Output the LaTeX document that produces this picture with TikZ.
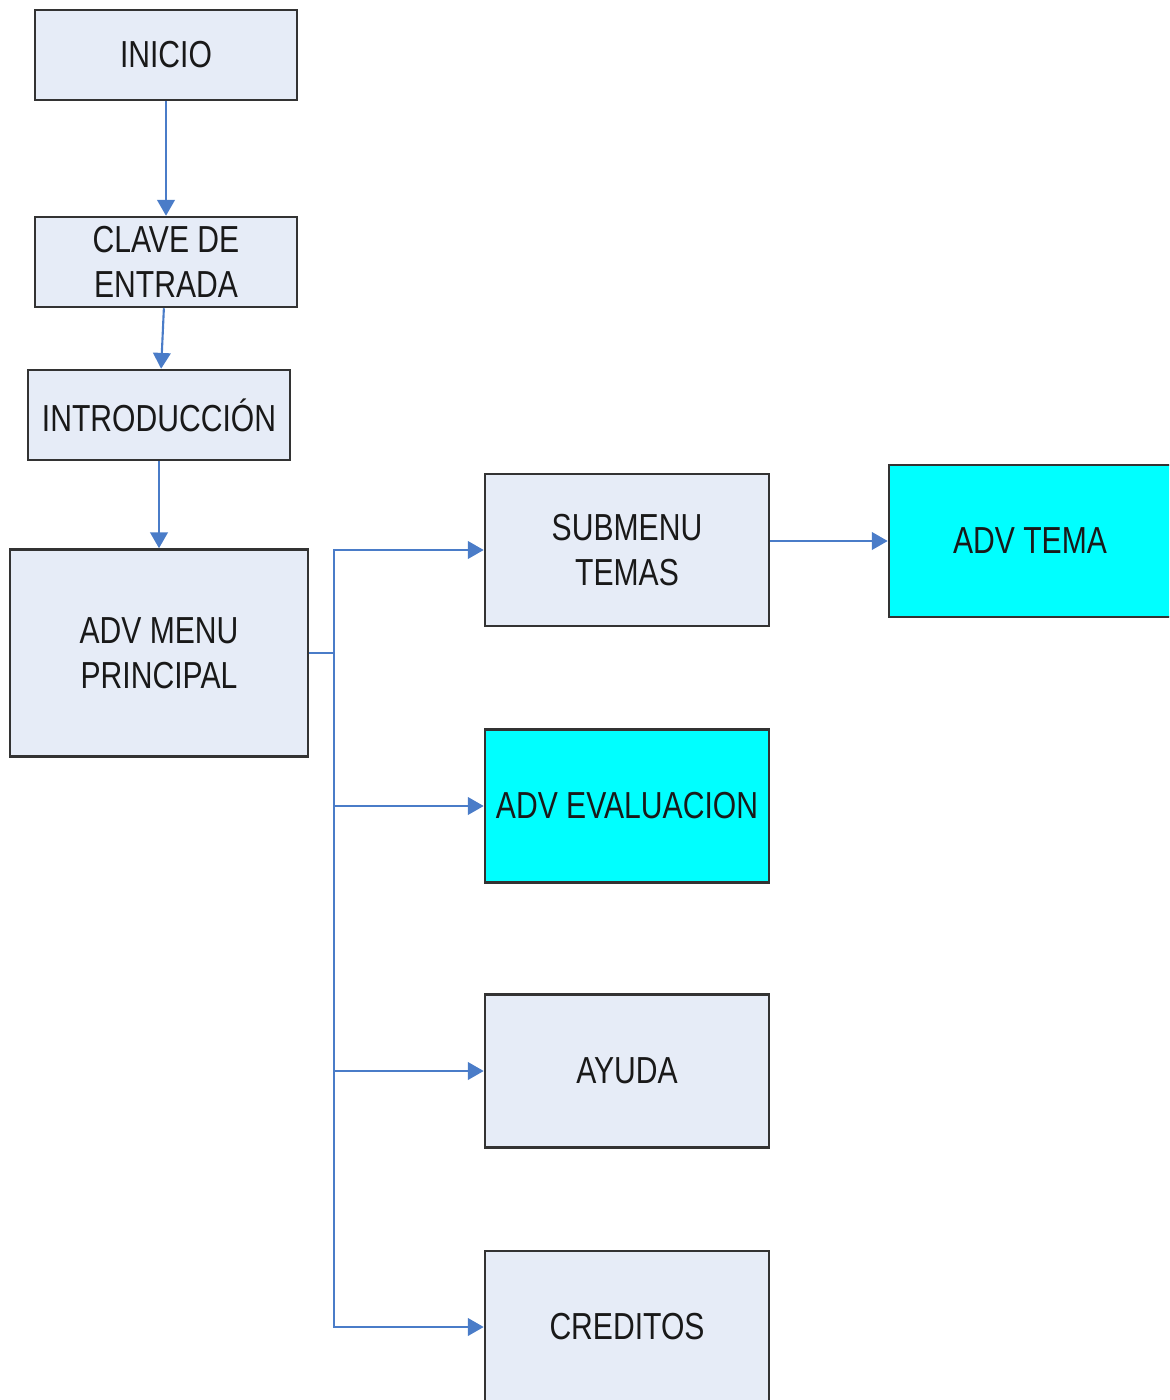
\documentclass[tikz,border=0pt]{standalone}
\usepackage{fontspec}
\setmainfont{Liberation Sans}[FakeStretch=0.8]
\usetikzlibrary{arrows.meta,positioning}

\definecolor{boxfill}{HTML}{E6ECF7}
\definecolor{boxline}{HTML}{333333}
\definecolor{linkblue}{HTML}{4A7CC8}
\definecolor{advfill}{HTML}{00FFFF}

\begin{document}
\begin{tikzpicture}[x=0.01cm,y=-0.01cm,
  caja/.style={draw=boxline,line width=0.7pt,fill=boxfill,align=center,
    text=black!90,font=\fontsize{10.7}{12.8}\selectfont,inner sep=0pt},
  adv/.style={caja,fill=advfill},
  link/.style={draw=linkblue,line width=0.6pt,-{Triangle[length=4.5pt,width=5pt]}}]
\useasboundingbox (0,0) rectangle (1169,1400);
\clip (0,0) rectangle (1169,1400);

	% columna de la izquierda
	\node[caja,minimum width=2.62cm,minimum height=0.9cm] (inicio) at (166,55) {INICIO};
	\node[caja,minimum width=2.62cm,minimum height=0.9cm] (clave) at (166,262) {CLAVE DE\\ENTRADA};
	\node[caja,minimum width=2.62cm,minimum height=0.9cm] (intro) at (159,415) {INTRODUCCIÓN};
	\node[caja,minimum width=2.98cm,minimum height=2.07cm] (menu) at (159,653) {ADV MENU\\PRINCIPAL};

	% opciones del menu
	\node[caja,minimum width=2.84cm,minimum height=1.52cm] (submenu) at (627,550) {SUBMENU\\TEMAS};
	\node[adv,minimum width=2.84cm,minimum height=1.53cm] (evaluacion) at (627,806) {ADV EVALUACION};
	\node[caja,minimum width=2.84cm,minimum height=1.53cm] (ayuda) at (627,1071) {AYUDA};
	\node[caja,minimum width=2.84cm,minimum height=1.52cm] (creditos) at (627,1327) {CREDITOS};
	\node[adv,minimum width=2.82cm,minimum height=1.52cm] (tema) at (1030,541) {ADV TEMA};

	\path[link] (inicio) -- (clave);
	\path[link] (clave) -- (intro);
	\path[link] (intro) -- (menu);

	\draw[linkblue,line width=0.6pt] (menu.east) -- ++(25,0) coordinate (split);
	\path[link] (split) |- (submenu.west);
	\path[link] (split) |- (evaluacion.west);
	\path[link] (split) |- (ayuda.west);
	\path[link] (split) |- (creditos.west);

	\path[link] (tema.west -| submenu.east) -- (tema.west);

\end{tikzpicture}
\end{document}
